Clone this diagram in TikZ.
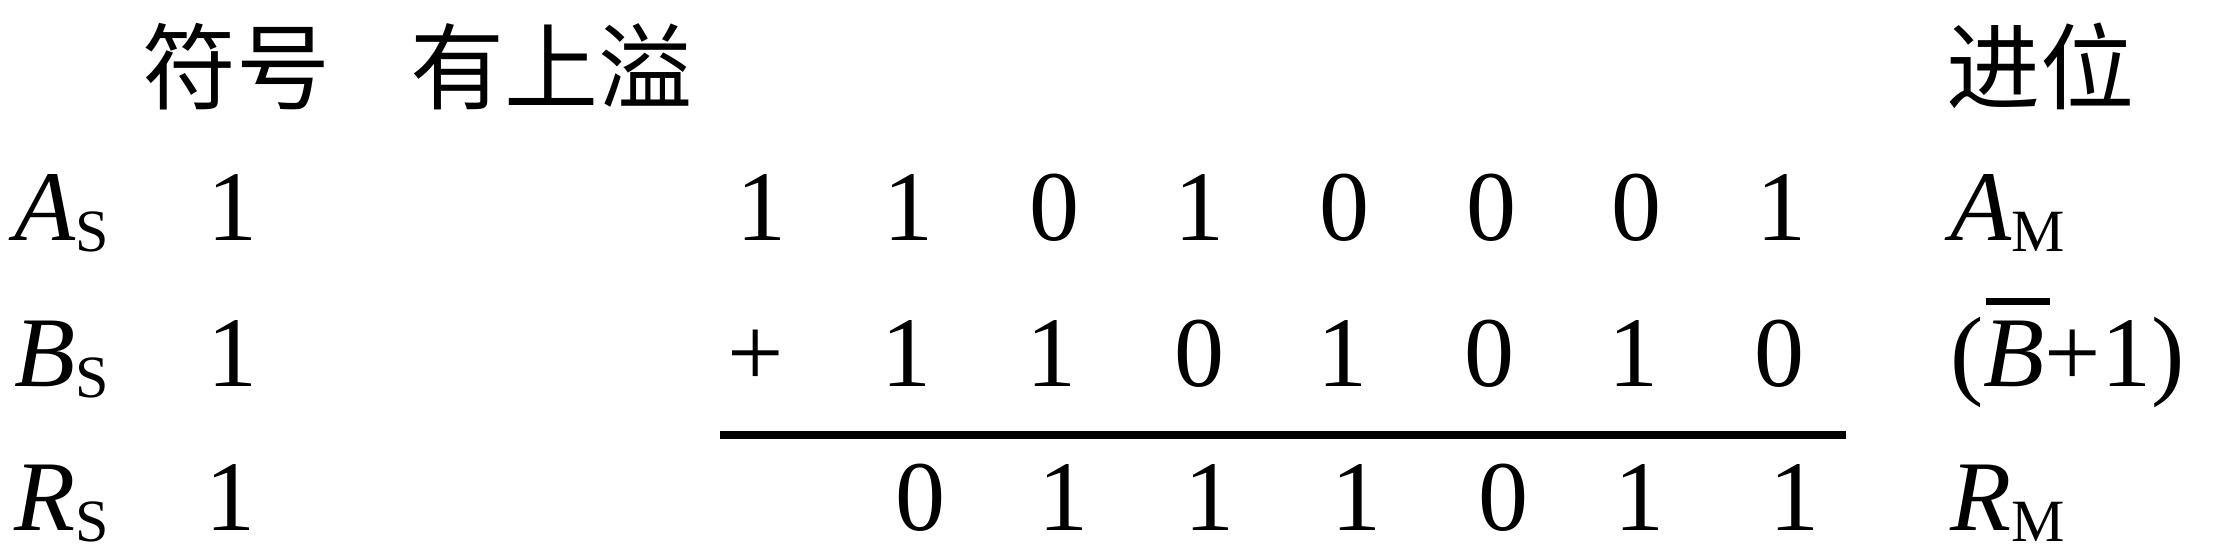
\documentclass[tikz,border=0pt]{standalone}
\usepackage{fontspec}
\setmainfont{Liberation Serif}
\newfontfamily\cjk{Noto Sans CJK SC}
\newcommand{\subS}[1]{\raisebox{-11pt}{\fontsize{60}{60}\selectfont #1}}
\newcommand{\barB}{\rlap{\hspace{2pt}\rule[81pt]{64pt}{7pt}}\textit{B}}
\tikzset{
  dig/.style={anchor=base, inner sep=0pt, font=\fontsize{100}{100}\selectfont},
  lab/.style={anchor=base west, inner sep=0pt, font=\fontsize{100}{100}\selectfont},
  cn/.style={anchor=base west, inner sep=0pt, font=\cjk\fontsize{94}{100}\selectfont},
  rule/.style={line width=8pt}
}
\begin{document}
\begin{tikzpicture}[x=1pt,y=1pt]
\fill[white] (0,0) rectangle (2220,558);
\useasboundingbox (0,0) rectangle (2220,558);
% headings
\node[cn] (h1) at (142,455) {符号};
\node[cn] (h2) at (410,455) {有上溢};
\node[cn] (h3) at (1946,455) {进位};
% row labels
\node[lab] (as) at (14,318) {\textit{A}\subS{S}};
\node[lab] (bs) at (14,172) {\textit{B}\subS{S}};
\node[lab] (rs) at (14,28) {\textit{R}\subS{S}};
% sign bits
\node[dig] (sa) at (232,318) {1};
\node[dig] (sb) at (232,172) {1};
\node[dig] (sr) at (230,28) {1};
% row A
\node[dig] (a1) at (761,318) {1};
\node[dig] (a2) at (908,318) {1};
\node[dig] (a3) at (1054,318) {0};
\node[dig] (a4) at (1199,318) {1};
\node[dig] (a5) at (1344,318) {0};
\node[dig] (a6) at (1491,318) {0};
\node[dig] (a7) at (1636,318) {0};
\node[dig] (a8) at (1781,318) {1};
\node[lab] (am) at (1950,318) {\textit{A}\subS{M}};
% row B
\node[dig] (b1) at (756,172) {+};
\node[dig] (b2) at (906,172) {1};
\node[dig] (b3) at (1051,172) {1};
\node[dig] (b4) at (1199,172) {0};
\node[dig] (b5) at (1342,172) {1};
\node[dig] (b6) at (1489,172) {0};
\node[dig] (b7) at (1633,172) {1};
\node[dig] (b8) at (1779,172) {0};
\node[lab] (bm) at (1950,172) {(\barB+1)};
% rule
\coordinate (l1) at (720,123);
\coordinate (l2) at (1846,123);
\draw[rule] (l1) -- (l2);
% row R
\node[dig] (r2) at (920,28) {0};
\node[dig] (r3) at (1063,28) {1};
\node[dig] (r4) at (1209,28) {1};
\node[dig] (r5) at (1356,28) {1};
\node[dig] (r6) at (1503,28) {0};
\node[dig] (r7) at (1639,28) {1};
\node[dig] (r8) at (1794,28) {1};
\node[lab] (rm) at (1950,28) {\textit{R}\subS{M}};
\end{tikzpicture}
\end{document}
